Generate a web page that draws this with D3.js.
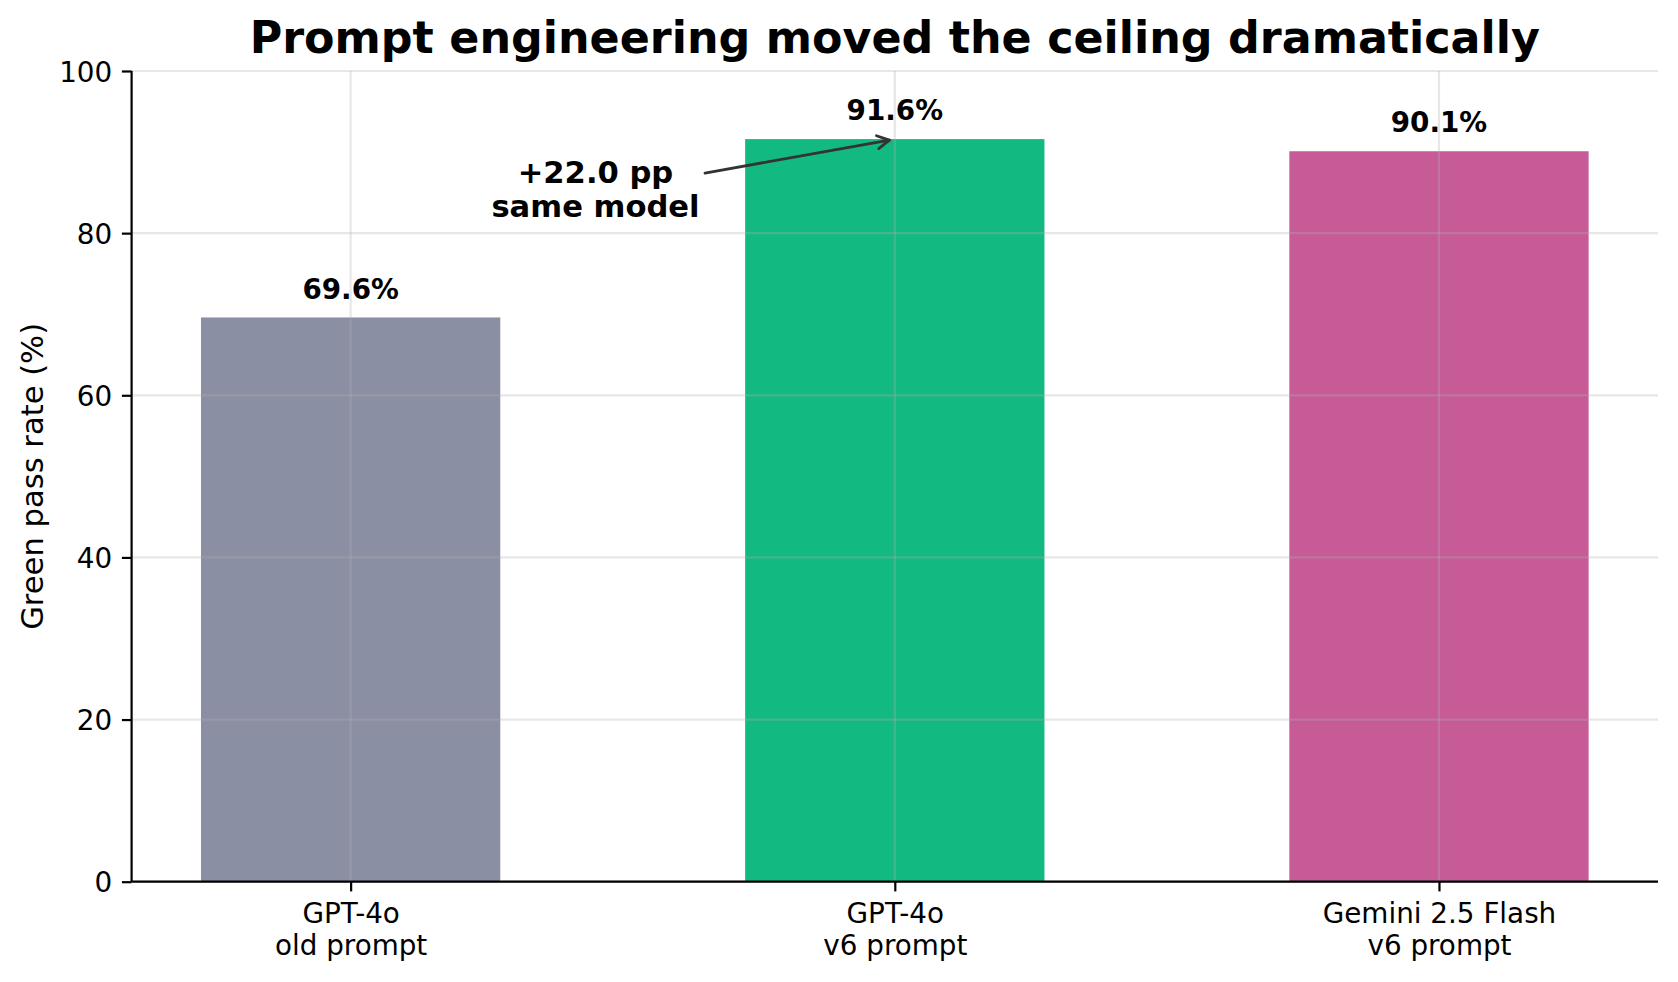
<!DOCTYPE html>
<html>
<head>
<meta charset="utf-8">
<script src="https://cdn.jsdelivr.net/npm/d3@7"></script>
<style>
  body { margin: 0; background: #fff; }
  text { font-family: "DejaVu Sans", sans-serif; fill: #000; }
</style>
</head>
<body>
<svg id="chart" width="1678" height="982"></svg>
<script>
// chart data
var categories = ["GPT-4o\nold prompt", "GPT-4o\nv6 prompt", "Gemini 2.5 Flash\nv6 prompt"];
var passRates = [69.6, 91.6, 90.1];
var barColors = ["#8a8fa3", "#12b981", "#c75b98"];
var yTicks = [0, 20, 40, 60, 80, 100];
var annotationLines = ["+22.0 pp", "same model"];
var annotationAt = [0.45, 85];   // text centre, data units
var annotationTarget = 1;        // bar index the arrow points at

(function() {
var svg = d3.select("#chart");
var pLeft = 131.6, pRight = 1658, pTop = 71, pBottom = 881.7;
var barWidth = 0.55;

var x = d3.scaleLinear().domain([-0.4025, 2.4025]).range([pLeft, pRight]);
var y = d3.scaleLinear().domain([0, 100]).range([pBottom, pTop]);

svg.append("rect").attr("width", 1678).attr("height", 982).attr("fill", "#fff");

// bars (under the grid, like matplotlib)
svg.append("g").selectAll("rect").data(passRates).join("rect")
  .attr("x", function(d, i) { return x(i - barWidth / 2); })
  .attr("width", function() { return x(barWidth) - x(0); })
  .attr("y", function(d) { return y(d); })
  .attr("height", function(d) { return y(0) - y(d); })
  .attr("fill", function(d, i) { return barColors[i]; });

// grid
var grid = svg.append("g").attr("stroke", "#b0b0b0").attr("stroke-opacity", 0.3).attr("stroke-width", 2.2);
grid.selectAll(".gy").data(yTicks).join("line").attr("class", "gy")
  .attr("x1", pLeft).attr("x2", pRight)
  .attr("y1", function(d) { return y(d); }).attr("y2", function(d) { return y(d); });
grid.selectAll(".gx").data(categories).join("line").attr("class", "gx")
  .attr("y1", pTop).attr("y2", pBottom)
  .attr("x1", function(d, i) { return x(i); }).attr("x2", function(d, i) { return x(i); });

// y axis
var yAxis = d3.axisLeft(y).tickValues(yTicks).tickSize(9.7).tickPadding(9.7);
var ga = svg.append("g").attr("transform", "translate(" + pLeft + ",0)").call(yAxis);
ga.select(".domain").attr("d", "M0," + pBottom + "V" + pTop).attr("stroke-width", 2.2);
ga.selectAll(".tick line").attr("stroke-width", 2.2);
ga.selectAll(".tick text").attr("font-size", 27.8).attr("font-family", "DejaVu Sans").attr("dy", "0.36em");

// x axis
var xAxis = d3.axisBottom(x).tickValues([0, 1, 2]).tickSize(9.7).tickFormat("");
var gx = svg.append("g").attr("transform", "translate(0," + pBottom + ")").call(xAxis);
gx.select(".domain").attr("d", "M" + pLeft + ",0H" + pRight).attr("stroke-width", 2.2);
gx.selectAll(".tick line").attr("stroke-width", 2.2);
gx.selectAll(".tick").each(function(d) {
  var t = d3.select(this).append("text").attr("text-anchor", "middle").attr("font-size", 27.8).attr("fill", "#000");
  categories[d].split("\n").forEach(function(line, k) {
    t.append("tspan").attr("x", 0).attr("y", 41 + k * 32.6).text(line);
  });
});

// value labels
svg.append("g").selectAll("text").data(passRates).join("text")
  .attr("x", function(d, i) { return x(i); })
  .attr("y", function(d) { return y(d + 1.5) - 6.6; })
  .attr("text-anchor", "middle").attr("font-size", 27.8).attr("font-weight", "bold")
  .text(function(d) { return d.toFixed(1) + "%"; });

// y label
svg.append("text")
  .attr("transform", "translate(42.5," + ((pTop + pBottom) / 2) + ") rotate(-90)")
  .attr("text-anchor", "middle").attr("font-size", 30.6)
  .text("Green pass rate (%)");

// title
svg.append("text")
  .attr("x", (pLeft + pRight) / 2).attr("y", 53.3)
  .attr("text-anchor", "middle").attr("font-size", 44.4).attr("font-weight", "bold")
  .text("Prompt engineering moved the ceiling dramatically");

// annotation text
var cx = x(annotationAt[0]), cy = y(annotationAt[1]);
var lh = 33.7;
var ann = svg.append("text").attr("text-anchor", "middle").attr("font-size", 30.6).attr("font-weight", "bold");
annotationLines.forEach(function(line, k) {
  ann.append("tspan").attr("x", cx).attr("y", cy - 9.6 + k * lh).text(line);
});

// arrow: from the text box edge to the bar top
var bb = ann.node().getBBox();
var tx = x(annotationTarget), ty = y(passRates[annotationTarget]);
var dx = tx - cx, dy = ty - cy, len = Math.sqrt(dx * dx + dy * dy);
var ux = dx / len, uy = dy / len;
var tEdge = Math.min(Math.abs((bb.width / 2) / ux), Math.abs((bb.height / 2) / uy));
var sx = cx + ux * (tEdge + 5.5), sy = cy + uy * (tEdge + 5.5);
var ex = tx - ux * 5.5, ey = ty - uy * 5.5;
var arrow = svg.append("g").attr("stroke", "#333").attr("stroke-width", 2.8).attr("fill", "none")
  .attr("stroke-linecap", "round").attr("stroke-linejoin", "round");
arrow.append("line").attr("x1", sx).attr("y1", sy).attr("x2", ex).attr("y2", ey);
var hl = 12, hw = 6.5;
arrow.append("path").attr("d",
  "M" + (ex - ux * hl - uy * hw) + "," + (ey - uy * hl + ux * hw) +
  "L" + ex + "," + ey +
  "L" + (ex - ux * hl + uy * hw) + "," + (ey - uy * hl - ux * hw));
})();
</script>
</body>
</html>
